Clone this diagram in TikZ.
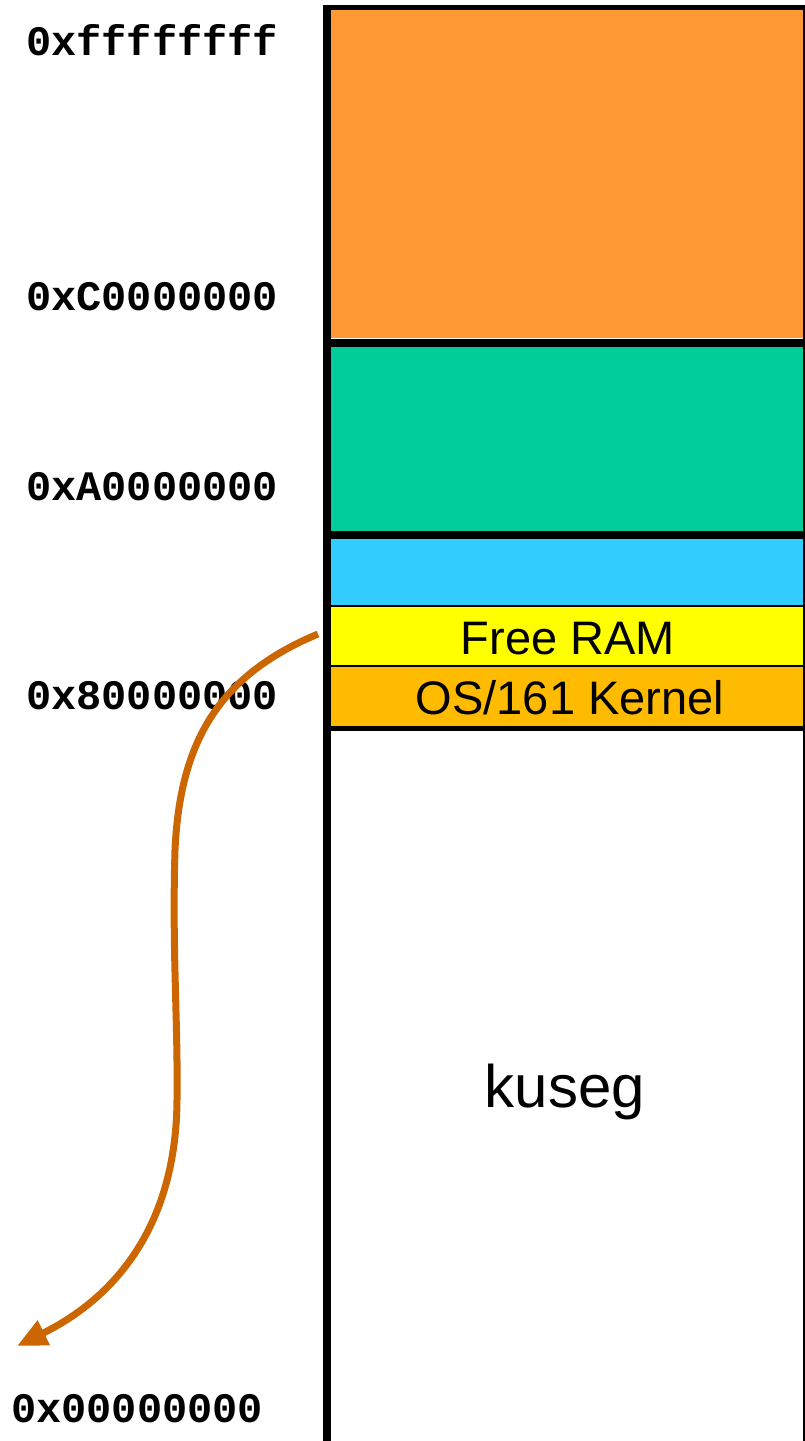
\documentclass[tikz,border=0pt]{standalone}
\usepackage{fontspec}
\setmainfont{Liberation Sans}
\newfontfamily\codefont{Liberation Mono}
\usetikzlibrary{arrows.meta}
\definecolor{kseg2}{HTML}{FF9933}
\definecolor{kseg1}{HTML}{00CC99}
\definecolor{kseg0}{HTML}{33CCFF}
\definecolor{freeram}{HTML}{FFFF00}
\definecolor{kernel}{HTML}{FFBB00}
\definecolor{arrowc}{HTML}{CC6600}
\tikzset{
  addr/.style={anchor=base west, inner sep=0pt, font=\codefont\bfseries\fontsize{42}{50}\selectfont},
  boxtext/.style={anchor=base, inner sep=0pt, font=\fontsize{47}{56}\selectfont},
  bigtext/.style={anchor=base, inner sep=0pt, font=\fontsize{60}{72}\selectfont},
  thickline/.style={line width=8pt},
  thinline/.style={line width=1.5pt},
  curvearrow/.style={draw=arrowc, line width=7pt, -{Triangle[length=30pt,width=26pt]}}
}
\begin{document}
\begin{tikzpicture}[x=1pt,y=-1pt]
\useasboundingbox (0,0) rectangle (805,1441);
\fill[white] (0,0) rectangle (805,1441);
% regions
\fill[kseg2] (331,10) rectangle (803,338);
\fill[kseg1] (331,347) rectangle (803,531);
\fill[kseg0] (331,539) rectangle (803,606);
\fill[freeram] (331,606) rectangle (803,666);
\fill[kernel] (331,666) rectangle (803,727);
% frame
\draw[line width=5pt] (323,7.5) -- (805,7.5);
\draw[thickline] (327,5) -- (327,1441);
\draw[line width=2pt] (804,5) -- (804,1441);
% separators
\draw[thickline] (331,342.5) -- (805,342.5);
\draw[thickline] (331,535) -- (805,535);
\draw[thinline] (331,606) -- (805,606);
\draw[thinline] (331,666) -- (805,666);
\draw[line width=4.5pt] (331,728.5) -- (805,728.5);
% texts
\node[boxtext] (free) at (568,654) {Free RAM};
\node[boxtext] (kern) at (570,714) {OS/161 Kernel};
\node[bigtext] (kuseg) at (565,1107) {kuseg};
% addresses
\node[addr] (a1) at (26,55) {0xffffffff};
\node[addr] (a2) at (26,310) {0xC0000000};
\node[addr] (a3) at (26,500) {0xA0000000};
\node[addr] (a4) at (26,709) {0x80000000};
\node[addr] (a5) at (11,1422) {0x00000000};
% arrow
\coordinate (astart) at (318,634);
\coordinate (amid1) at (175,850);
\coordinate (amid2) at (177,1100);
\coordinate (aend) at (17,1346);
\draw[curvearrow] (astart) .. controls (220,675) and (180,740) .. (amid1)
  .. controls (172,950) and (178,1020) .. (amid2)
  .. controls (176,1250) and (90,1310) .. (aend);
\end{tikzpicture}
\end{document}
